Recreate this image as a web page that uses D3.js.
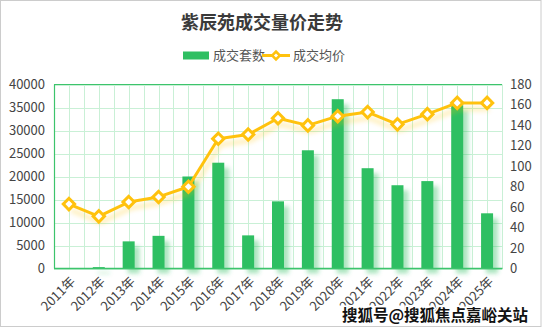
<!DOCTYPE html>
<html>
<head>
<meta charset="utf-8">
<script src="https://cdn.jsdelivr.net/npm/d3@7/dist/d3.min.js"></script>
<style>
  html, body { margin: 0; padding: 0; background: #fff; }
  svg { display: block; font-family: "Noto Sans CJK SC", "Noto Sans", sans-serif; }
</style>
</head>
<body>
<svg id="chart" width="542" height="330"></svg>
<script>
// Yearly transaction data
const years = ["2011年","2012年","2013年","2014年","2015年","2016年","2017年","2018年",
               "2019年","2020年","2021年","2022年","2023年","2024年","2025年"];
const units = [0, 300, 5900, 7100, 20000, 23000, 7200, 14600, 25700, 36800, 21800, 18100, 19000, 35500, 12000];
const avgPrice = [63, 51, 65, 70, 80, 127, 131, 147, 140, 149, 153, 141, 151, 162, 162];
const leftTicks = [0, 5000, 10000, 15000, 20000, 25000, 30000, 35000, 40000];
const rightTicks = [0, 20, 40, 60, 80, 100, 120, 140, 160, 180];

const title = "紫辰苑成交量价走势";
const seriesNames = ["成交套数", "成交均价"];
const credit = "搜狐号@搜狐焦点嘉峪关站";

const W = 542, H = 330;
const m = { left: 54, right: 502, top: 84.5, bottom: 268.5 };
const green = "#2fbf62", gold = "#ffc20e", gridC = "#c9f0d6", textC = "#444";

const svg = d3.select("#chart");
const defs = svg.append("defs");

const barShadow = defs.append("filter").attr("id", "barShadow")
  .attr("x", "-50%").attr("y", "-10%").attr("width", "200%").attr("height", "130%");
barShadow.append("feDropShadow").attr("dx", 5).attr("dy", 5).attr("stdDeviation", 2)
  .attr("flood-color", green).attr("flood-opacity", 0.4);

const lineShadow = defs.append("filter").attr("id", "lineShadow")
  .attr("x", "-10%").attr("y", "-30%").attr("width", "120%").attr("height", "160%");
lineShadow.append("feDropShadow").attr("dx", 2).attr("dy", 6).attr("stdDeviation", 2.5)
  .attr("flood-color", gold).attr("flood-opacity", 0.4);

// Outer frame
svg.append("rect").attr("x", 0.5).attr("y", 0.5).attr("width", W - 1.5).attr("height", 326)
  .attr("fill", "#fff").attr("stroke", "#cccccc");

const x = d3.scaleBand().domain(years).range([m.left, m.right]);
const yL = d3.scaleLinear().domain([0, 40000]).range([m.bottom, m.top]);
const yR = d3.scaleLinear().domain([0, 180]).range([m.bottom, m.top]);

// Title
svg.append("text").attr("x", 262).attr("y", 29).attr("text-anchor", "middle")
  .attr("font-size", 18).attr("font-weight", "bold").attr("fill", "#3a3a3a").text(title);

// Legend
const lg = svg.append("g");
lg.append("rect").attr("x", 183).attr("y", 51.5).attr("width", 26).attr("height", 8).attr("fill", green);
lg.append("text").attr("x", 213).attr("y", 55.5).attr("dy", "0.35em").attr("font-size", 13)
  .attr("fill", "#555").text(seriesNames[0]);
lg.append("line").attr("x1", 262).attr("x2", 290).attr("y1", 55.5).attr("y2", 55.5)
  .attr("stroke", gold).attr("stroke-width", 3);
lg.append("path").attr("d", d3.symbol(d3.symbolSquare, 30)())
  .attr("transform", "translate(276,55.5) rotate(45)")
  .attr("fill", "#fff").attr("stroke", gold).attr("stroke-width", 2.5);
lg.append("text").attr("x", 293).attr("y", 55.5).attr("dy", "0.35em").attr("font-size", 13)
  .attr("fill", "#555").text(seriesNames[1]);

// Grid: horizontal at ticks, vertical at band edges and centres
const grid = svg.append("g");
grid.selectAll(".hg").data(leftTicks).join("line")
  .attr("x1", m.left).attr("x2", m.right)
  .attr("y1", d => Math.round(yL(d)) + 0.5).attr("y2", d => Math.round(yL(d)) + 0.5)
  .attr("stroke", gridC).attr("stroke-width", 1);
const vPos = [];
years.forEach(d => { vPos.push(x(d)); vPos.push(x(d) + x.bandwidth() / 2); });
vPos.push(m.right);
grid.selectAll(".vg").data(vPos).join("line")
  .attr("x1", d => Math.round(d) + 0.5).attr("x2", d => Math.round(d) + 0.5)
  .attr("y1", m.top).attr("y2", m.bottom)
  .attr("stroke", gridC).attr("stroke-width", 1);

// Bars
const barW = 12;
svg.append("g").attr("filter", "url(#barShadow)")
  .selectAll("rect").data(units).join("rect")
  .attr("x", (d, i) => x(years[i]) + x.bandwidth() / 2 - barW / 2)
  .attr("y", d => yL(d))
  .attr("width", barW)
  .attr("height", d => m.bottom - yL(d))
  .attr("fill", green);

// Frame lines of the plot
svg.append("line").attr("x1", m.left + 0.5).attr("x2", m.left + 0.5).attr("y1", m.top).attr("y2", m.bottom)
  .attr("stroke", "#3cc46c").attr("stroke-width", 1.2);
svg.append("line").attr("x1", m.left).attr("x2", m.right).attr("y1", m.top).attr("y2", m.top)
  .attr("stroke", "#3cc46c").attr("stroke-width", 1.2);
svg.append("line").attr("x1", m.left).attr("x2", m.right + 0.5).attr("y1", m.bottom).attr("y2", m.bottom)
  .attr("stroke", "#3cc46c").attr("stroke-width", 1.5);

// Price line
const lineGen = d3.line().x((d, i) => x(years[i]) + x.bandwidth() / 2).y(d => yR(d));
svg.append("path").datum(avgPrice).attr("d", lineGen)
  .attr("fill", "none").attr("stroke", gold).attr("stroke-width", 3)
  .attr("stroke-linejoin", "round").attr("filter", "url(#lineShadow)");
svg.append("g").selectAll("path").data(avgPrice).join("path")
  .attr("d", d3.symbol(d3.symbolSquare, 64)())
  .attr("transform", (d, i) => `translate(${x(years[i]) + x.bandwidth() / 2},${yR(d)}) rotate(45)`)
  .attr("fill", "#fff").attr("stroke", gold).attr("stroke-width", 3);

// Left axis labels
svg.append("g").selectAll("text").data(leftTicks).join("text")
  .attr("x", 45).attr("y", d => yL(d)).attr("dy", "0.35em").attr("text-anchor", "end")
  .attr("font-size", 13).attr("fill", textC).text(d => d);

// Right axis labels
svg.append("g").selectAll("text").data(rightTicks).join("text")
  .attr("x", 510).attr("y", d => yR(d)).attr("dy", "0.35em").attr("text-anchor", "start")
  .attr("font-size", 13).attr("fill", textC).text(d => d);

// Category labels
svg.append("g").selectAll("text").data(years).join("text")
  .attr("transform", d => `translate(${x(d) + x.bandwidth() / 2 + 4},279) rotate(-45)`)
  .attr("text-anchor", "end").attr("dy", "0.35em")
  .attr("font-size", 13).attr("fill", textC).text(d => d);

// Credit line
svg.append("text").attr("x", 435).attr("y", 321).attr("text-anchor", "middle")
  .attr("font-size", 15.5).attr("font-weight", "bold").attr("fill", "#111")
  .attr("stroke", "#fff").attr("stroke-width", 3).attr("paint-order", "stroke")
  .text(credit);
</script>
</body>
</html>
